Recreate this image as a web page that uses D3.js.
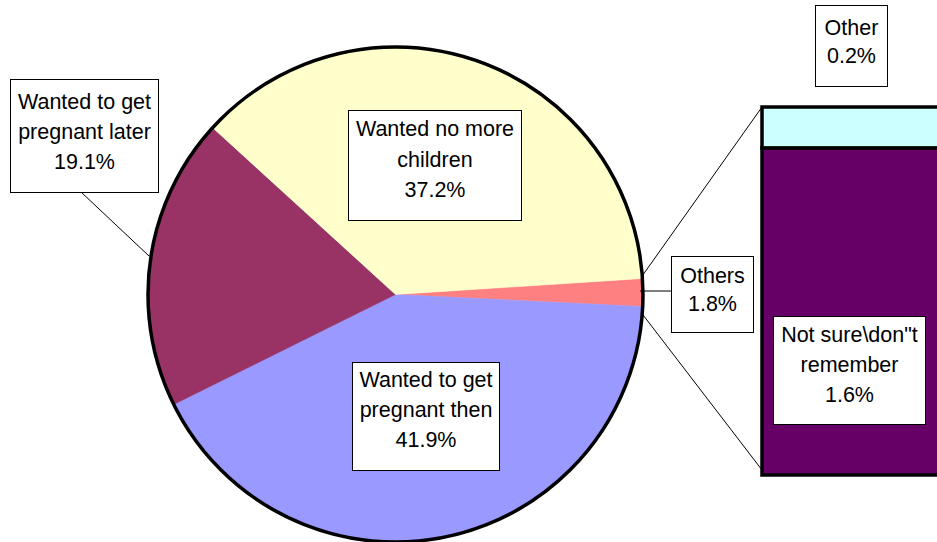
<!DOCTYPE html>
<html>
<head>
<meta charset="utf-8">
<script src="https://cdn.jsdelivr.net/npm/d3@7"></script>
<style>
  html, body { margin: 0; padding: 0; background: #ffffff; }
  svg { display: block; }
</style>
</head>
<body>
<svg id="chart" width="937" height="542"></svg>
<script>
// ---- data ----
const pieCategories = ["Others", "Wanted to get pregnant then", "Wanted to get pregnant later", "Wanted no more children"];
const pieValues = [1.8, 41.9, 19.1, 37.2];
const pieLabels = [["Others", "1.8%"], ["Wanted to get", "pregnant then", "41.9%"], ["Wanted to get", "pregnant later", "19.1%"], ["Wanted no more", "children", "37.2%"]];
const pieColors = ["#FF8080", "#9999FF", "#993366", "#FFFFCC"];

const barCategories = ["Not sure\\don\"t remember", "Other"];
const barValues = [1.6, 0.2];
const barLabels = [["Not sure\\don\"t", "remember", "1.6%"], ["Other", "0.2%"]];
const barColors = ["#660066", "#CCFFFF"];

// ---- layout ----
const svg = d3.select("#chart");
const cx = 395.5, cy = 294.5, R = 247.5;
const startDeg = 86.3;
const toRad = d => d * Math.PI / 180;

const pie = d3.pie().sort(null).value(d => d)
  .startAngle(toRad(startDeg)).endAngle(toRad(startDeg + 360));
const arcs = pie(pieValues);
const arc = d3.arc().innerRadius(0).outerRadius(R);

const g = svg.append("g").attr("transform", `translate(${cx},${cy})`);
g.selectAll("path.slice").data(arcs).enter().append("path")
  .attr("class", "slice")
  .attr("d", arc)
  .attr("fill", (d, i) => pieColors[i])
  .attr("stroke", (d, i) => pieColors[i])
  .attr("stroke-width", 0.5);
g.append("circle").attr("r", R).attr("fill", "none").attr("stroke", "#000").attr("stroke-width", 3.5);

// ---- bar (stacked) ----
const barX = 762, barW = 200;
const total = d3.sum(barValues);
const y = d3.scaleLinear().domain([0, total]).range([475, 107]);
const stack = [];
let acc = 0;
barValues.forEach((v, i) => { stack.push({ i, y0: acc, y1: acc + v }); acc += v; });

// connector lines
const pt = a => [cx + R * Math.sin(a), cy - R * Math.cos(a)];
const others = arcs[0];
const pTop = pt(others.startAngle), pBot = pt(others.endAngle);
svg.append("line").attr("x1", pTop[0]).attr("y1", pTop[1] - 3).attr("x2", barX).attr("y2", y(total))
  .attr("stroke", "#000").attr("stroke-width", 1);
svg.append("line").attr("x1", pBot[0]).attr("y1", pBot[1] + 8).attr("x2", barX).attr("y2", y(0) - 5)
  .attr("stroke", "#000").attr("stroke-width", 1);

svg.selectAll("rect.bar").data(stack).enter().append("rect")
  .attr("class", "bar")
  .attr("x", barX)
  .attr("y", d => y(d.y1))
  .attr("width", barW)
  .attr("height", d => y(d.y0) - y(d.y1))
  .attr("fill", d => barColors[d.i])
  .attr("stroke", "#000").attr("stroke-width", 3.5);

// ---- labels ----
const font = "'Liberation Sans', Arial, sans-serif";
function labelBox(x0, y0, x1, y1, lines, baselines) {
  svg.append("rect").attr("x", x0 + 0.5).attr("y", y0 + 0.5).attr("width", x1 - x0).attr("height", y1 - y0)
    .attr("fill", "#fff").attr("stroke", "#000").attr("stroke-width", 1);
  const t = svg.append("text").attr("text-anchor", "middle")
    .attr("font-family", font).attr("font-size", "21.5px").attr("fill", "#000");
  lines.forEach((s, k) => {
    t.append("tspan").attr("x", (x0 + x1) / 2 + 0.5).attr("y", baselines[k]).text(s);
  });
}

// leader lines
svg.append("line").attr("x1", 81).attr("y1", 192).attr("x2", 149).attr("y2", 256)
  .attr("stroke", "#000").attr("stroke-width", 1);
svg.append("line").attr("x1", 640).attr("y1", 291).attr("x2", 671).attr("y2", 291)
  .attr("stroke", "#000").attr("stroke-width", 1);

labelBox(10, 79, 158, 192, pieLabels[2], [109, 139, 169]);
labelBox(348, 110, 521, 220, pieLabels[3], [136, 167, 197]);
labelBox(352, 362, 499, 470, pieLabels[1], [387, 417, 447]);
labelBox(671, 256, 753, 332, pieLabels[0], [283, 311]);
labelBox(815, 5, 887, 86, barLabels[1], [35, 63]);
labelBox(773, 316, 925, 424, barLabels[0], [342, 372, 402]);
</script>
</body>
</html>
